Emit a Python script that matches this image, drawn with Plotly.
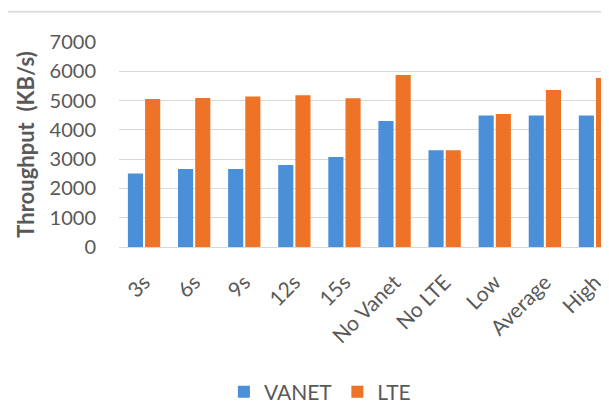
import plotly.graph_objects as go

categories = ["3s", "6s", "9s", "12s", "15s", "No Vanet", "No LTE", "Low", "Average", "High"]
vanet = [2510, 2660, 2660, 2800, 3070, 4300, 3300, 4490, 4490, 4490]
lte = [5050, 5090, 5140, 5180, 5080, 5870, 3300, 4540, 5360, 5770]
y_ticks = [0, 1000, 2000, 3000, 4000, 5000, 6000, 7000]

font_family = "Lato, 'Open Sans', sans-serif"
gray = "#595959"

fig = go.Figure()
fig.add_trace(go.Bar(x=categories, y=vanet, name="VANET", marker=dict(color="#4A8FD8", line=dict(width=0))))
fig.add_trace(go.Bar(x=categories, y=lte, name="LTE", marker=dict(color="#EF7327", line=dict(width=0))))

fig.update_layout(
    width=601, height=395,
    margin=dict(l=111, r=0, t=34, b=156, pad=0, autoexpand=False),
    paper_bgcolor="white", plot_bgcolor="white",
    barmode="group", bargap=0.314, bargroupgap=0.12,
    font=dict(family=font_family, color=gray),
    showlegend=True,
    legend=dict(orientation="h", x=0.41, xanchor="center", y=-0.708, yanchor="middle",
                font=dict(size=21, color=gray, family=font_family), itemwidth=30,
                traceorder="normal"),
    xaxis=dict(range=[-0.5, 9.28], tickangle=-45, tickfont=dict(size=21, color=gray),
               showgrid=False, showline=False, ticks="", zeroline=False, automargin=False,
               ticklabelstandoff=18),
    yaxis=dict(range=[0, 7000], tickvals=y_ticks, tickfont=dict(size=20, color=gray),
               showgrid=True, gridcolor="#D9D9D9", gridwidth=1, zeroline=True,
               zerolinecolor="#D9D9D9", zerolinewidth=1, ticks="", ticklabelstandoff=22,
               automargin=False,
               title=dict(text="Throughput  (KB/s)", font=dict(size=22, color=gray, family=font_family, weight="bold"),
                          standoff=8)),
)

fig.add_shape(type="line", xref="paper", yref="paper", x0=-0.3, x1=1.05, y0=1.148, y1=1.148,
              line=dict(color="#DDDDDD", width=2))

fig.write_html("out.html")
